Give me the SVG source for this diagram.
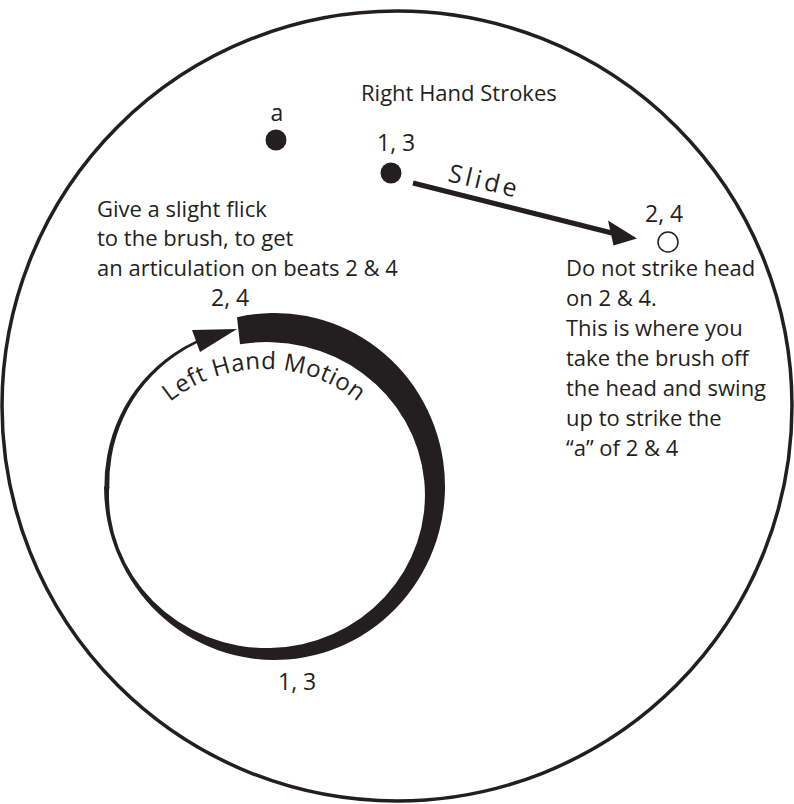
<svg xmlns="http://www.w3.org/2000/svg" width="794" height="804" viewBox="0 0 794 804">
<style>
text{font-family:"Open Sans","Noto Sans","Liberation Sans",sans-serif;fill:#231f20;}
.body{font-size:22px;}
.num{font-size:23px;}
.ink{fill:#231f20;}
.line{stroke:#231f20;fill:none;}
</style>
<rect width="794" height="804" fill="#fff"/>
<g id="drum">
<circle cx="397" cy="406" r="395" class="line" stroke-width="3.5"/>
</g>
<g id="title"><text class="body" x="361" y="101">Right Hand Strokes</text></g>
<g id="node-a">
<text class="num" x="277" y="121" text-anchor="middle">a</text>
<circle cx="276" cy="140" r="10.5" class="ink"/>
</g>
<g id="node-13-right">
<text class="num" x="377" y="151">1, 3</text>
<circle cx="391" cy="173" r="10.5" class="ink"/>
</g>
<g id="node-24-right">
<text class="num" x="645" y="222">2, 4</text>
<circle cx="668" cy="242" r="10" fill="#fff" stroke="#231f20" stroke-width="1.5"/>
</g>
<g id="note-left">
<text class="body" x="97" y="217">Give a slight flick</text>
<text class="body" x="97" y="246">to the brush, to get</text>
<text class="body" x="97" y="276">an articulation on beats 2 &amp; 4</text>
</g>
<g id="note-right">
<text class="body" x="566" y="276">Do not strike head</text>
<text class="body" x="566" y="306">on 2 &amp; 4.</text>
<text class="body" x="566" y="336">This is where you</text>
<text class="body" x="566" y="366">take the brush off</text>
<text class="body" x="566" y="396">the head and swing</text>
<text class="body" x="566" y="426">up to strike the</text>
<text class="body" x="566" y="456">“a” of 2 &amp; 4</text>
</g>
<g id="left-hand-circle">
<path class="ink" d="M237,317.2 A170.5,173.5 0 1 1 104,486.5 L109.2,486.5 A158,153 0 1 0 240,344.3 Z"/>
<path class="ink" d="M104.4,488.5 A158,158 0 0 1 107.2,455.5 A158,158 0 0 1 119.8,416.2 A158,158 0 0 1 142.2,381.6 A158,158 0 0 1 172.7,354 A158,158 0 0 1 196.5,340.5 L197.6,342.7 A154,154 0 0 0 174.3,356.4 A154,154 0 0 0 144.8,383.8 A154,154 0 0 0 123.4,417.9 A154,154 0 0 0 111.6,456.3 A154,154 0 0 0 109.3,488.5 Z"/>
<polygon class="ink" points="237,329 192,330 200,352"/>
<text class="num" x="211" y="306">2, 4</text>
<text class="num" x="278" y="690">1, 3</text>
</g>
<defs>
<path id="lhm" d="M123,467.7 A150,150 0 0 1 405,467.7"/>
</defs>
<g id="left-hand-label">
<text style="font-size:24px;letter-spacing:0.5px"><textPath href="#lhm" startOffset="50%" text-anchor="middle">Left Hand Motion</textPath></text>
</g>
<g id="connectors">
<line x1="413" y1="183" x2="612" y2="233" stroke="#231f20" stroke-width="5"/>
<polygon class="ink" points="637,238.5 608,220.5 613.5,245.5"/>
<text style="font-size:25px;letter-spacing:3.5px" x="447" y="181" transform="rotate(13.5 447 181)">Slide</text>
</g>
</svg>
